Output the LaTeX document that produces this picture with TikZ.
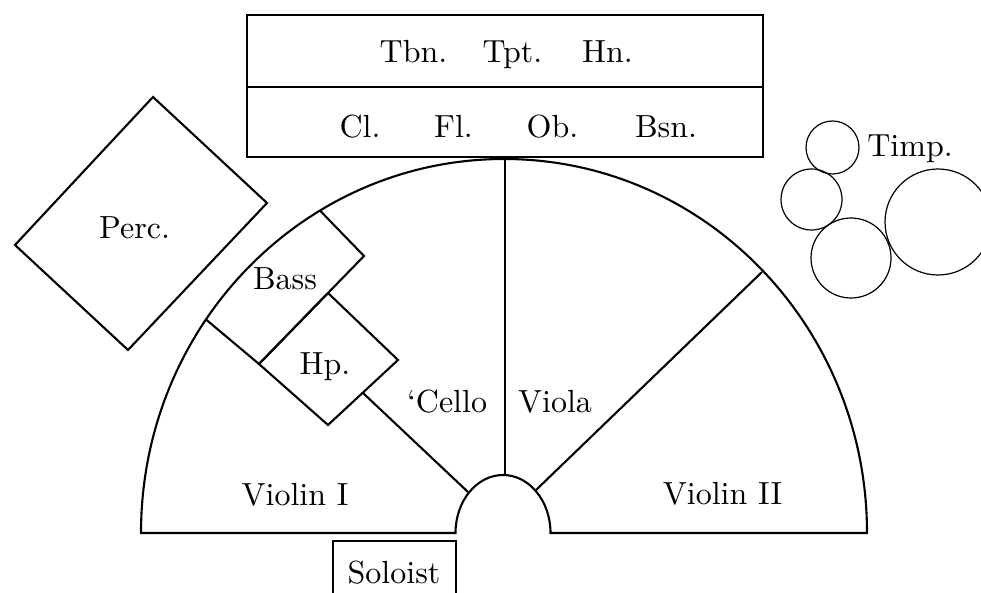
\documentclass[tikz,border=0pt]{standalone}
\usepackage{fontspec}
\setmainfont{lmroman10-regular.otf}
\begin{document}
\begin{tikzpicture}[x=1pt,y=1pt,
  lbl/.style={font=\fontsize{32}{38}\selectfont, inner sep=0pt, anchor=base},
  wall/.style={line width=2.1pt, line join=miter, line cap=butt},
  thinwall/.style={line width=2pt},
  drum/.style={line width=1.2pt}]
\useasboundingbox (0,0) rectangle (981,-593);
\fill[white] (0,0) rectangle (981,-593);
\clip (0,0) rectangle (981,-593);

% brass / woodwind box
\draw[wall] (247,-15) rectangle (763,-157);
\draw[wall] (247,-87) -- (763,-87);

% stage outline
\draw[wall] (141,-533) arc[start angle=180,end angle=0,x radius=363,y radius=374]
  -- (550.5,-533) arc[start angle=0,end angle=180,x radius=47.5,y radius=58] -- cycle;

% section dividers
\draw[thinwall] (504.5,-475) -- (504.5,-159);
\draw[wall] (536,-490) -- (762,-272);
\draw[wall] (468,-492) -- (363,-393);

% bass and harp
\draw[wall] (320,-210.6) -- (364,-256) -- (259,-364) -- (206,-319.5);
\draw[wall] (259,-364) -- (328,-293) -- (398,-360) -- (328,-425) -- cycle;

% percussion
\draw[wall] (153,-97) -- (267,-203) -- (128,-350) -- (15,-245) -- cycle;

% soloist
\draw[wall] (333,-600) |- (456,-541) -- (456,-600);

% timpani
\draw[drum] (832.5,-147.5) circle[radius=26.5];
\draw[drum] (811.5,-199.5) circle[radius=30.5];
\draw[drum] (851,-258) circle[radius=40];
\draw[drum] (938,-222) circle[radius=53];

% labels
\node[lbl] (tbn) at (413.5,-63) {Tbn.};
\node[lbl] (tpt) at (512.5,-63) {Tpt.};
\node[lbl] (hn) at (607.5,-63) {Hn.};
\node[lbl] (cl) at (360,-138) {Cl.};
\node[lbl] (fl) at (453.5,-138) {Fl.};
\node[lbl] (ob) at (552.5,-138) {Ob.};
\node[lbl] (bsn) at (666,-138) {Bsn.};
\node[lbl] (timp) at (910,-157) {Timp.};
\node[lbl] (perc) at (134.5,-239) {Perc.};
\node[lbl] (bass) at (285,-290) {Bass};
\node[lbl] (hp) at (325,-374) {Hp.};
\node[lbl] (cello) at (447,-412) {‘Cello};
\node[lbl] (viola) at (555,-412) {Viola};
\node[lbl] (vln1) at (295,-505) {Violin I};
\node[lbl] (vln2) at (722.5,-504) {Violin II};
\node[lbl] (solo) at (394,-583) {Soloist};
\end{tikzpicture}
\end{document}
